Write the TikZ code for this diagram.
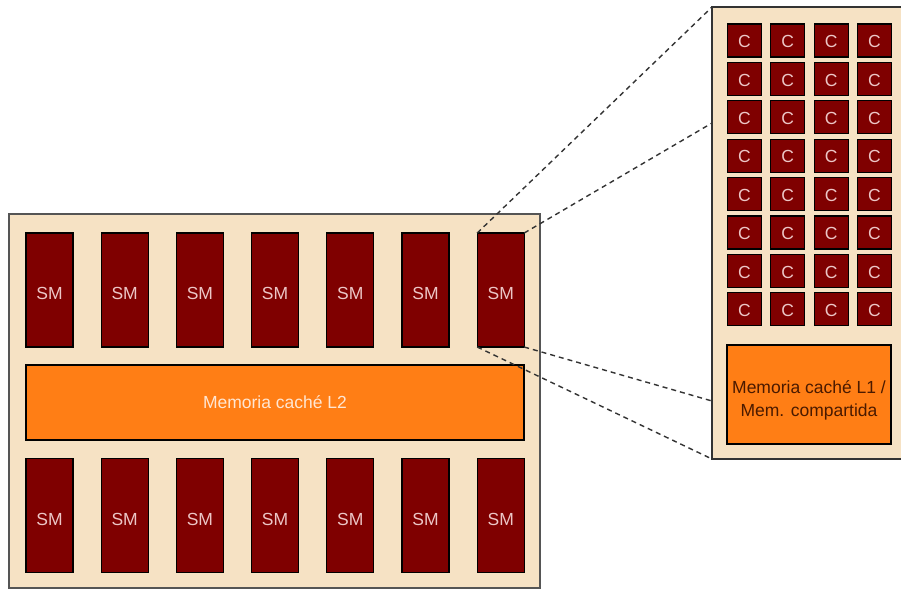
\documentclass[tikz,border=0pt]{standalone}
\usepackage{fontspec}
\setmainfont{Liberation Sans}
\begin{document}
\begin{tikzpicture}[x=1pt,y=-1pt,
  every node/.style={inner sep=0pt, outer sep=0pt},
  txt/.style={font=\fontsize{17.5}{23}\selectfont},
  smbox/.style={draw=black, line width=1.3pt, fill=smred, minimum width=47pt, minimum height=114pt, txt, text=smtext, text height=19.5pt, text depth=0pt},
  cbox/.style={draw=black, line width=1.2pt, fill=smred, minimum width=34pt, minimum height=33pt, txt, text=smtext, text height=14.5pt, text depth=0pt},
  memL2/.style={draw=black, line width=1.3pt, fill=cacheorange, minimum width=498pt, minimum height=75pt, txt, text=l2text},
  memL1/.style={draw=black, line width=1.3pt, fill=cacheorange, minimum width=164pt, minimum height=99pt},
  l1label/.style={txt, text=l1text, align=center},
  zoomline/.style={draw=darkline, line width=1.4pt, dash pattern=on 5pt off 4pt}
]
\definecolor{beige}{HTML}{F6E2C4}
\definecolor{smred}{HTML}{7F0000}
\definecolor{smtext}{HTML}{ECC6C6}
\definecolor{cacheorange}{HTML}{FF7E15}
\definecolor{l2text}{HTML}{FFE6D2}
\definecolor{l1text}{HTML}{4A1A00}
\definecolor{framegray}{HTML}{555555}
\definecolor{darkline}{HTML}{333333}
\useasboundingbox (0,0) rectangle (901,590);

% left chip
\draw[framegray, line width=2pt, fill=beige] (9,214) rectangle (540,588);
\foreach \i in {1,...,7}{
  \pgfmathsetmacro{\xx}{49.5+75.2*(\i-1)}
  \node[smbox] (smt\i) at (\xx,290) {SM};
  \node[smbox] (smb\i) at (\xx,515.5) {SM};
}
\node[memL2] (l2) at (275,402.5) {Memoria caché L2};

% right zoomed SM
\fill[beige] (712,7) rectangle (901,459);
\draw[darkline, line width=2pt] (902,7) -- (712,7) -- (712,459) -- (902,459);
\coordinate (rtl) at (712,7);
\coordinate (rtr) at (712,123);
\coordinate (rbr) at (712,401);
\coordinate (rbl) at (712,459);
\foreach \r in {1,...,8}{
  \foreach \c in {1,...,4}{
    \pgfmathsetmacro{\cx}{744.5+43.3*(\c-1)}
    \pgfmathsetmacro{\cy}{40.5+38.4*(\r-1)}
    \node[cbox] (c\r\c) at (\cx,\cy) {C};
  }
}
\node[memL1, label={[l1label, yshift=-6pt]center:Memoria caché L1 /\\Mem. compartida}] (l1) at (809,394.5) {};

% zoom lines
\draw[zoomline] (smt7.north west) -- (rtl);
\draw[zoomline] (smt7.north east) -- (rtr);
\draw[zoomline] (smt7.south east) -- (rbr);
\draw[zoomline] (smt7.south west) -- (rbl);
\end{tikzpicture}
\end{document}
